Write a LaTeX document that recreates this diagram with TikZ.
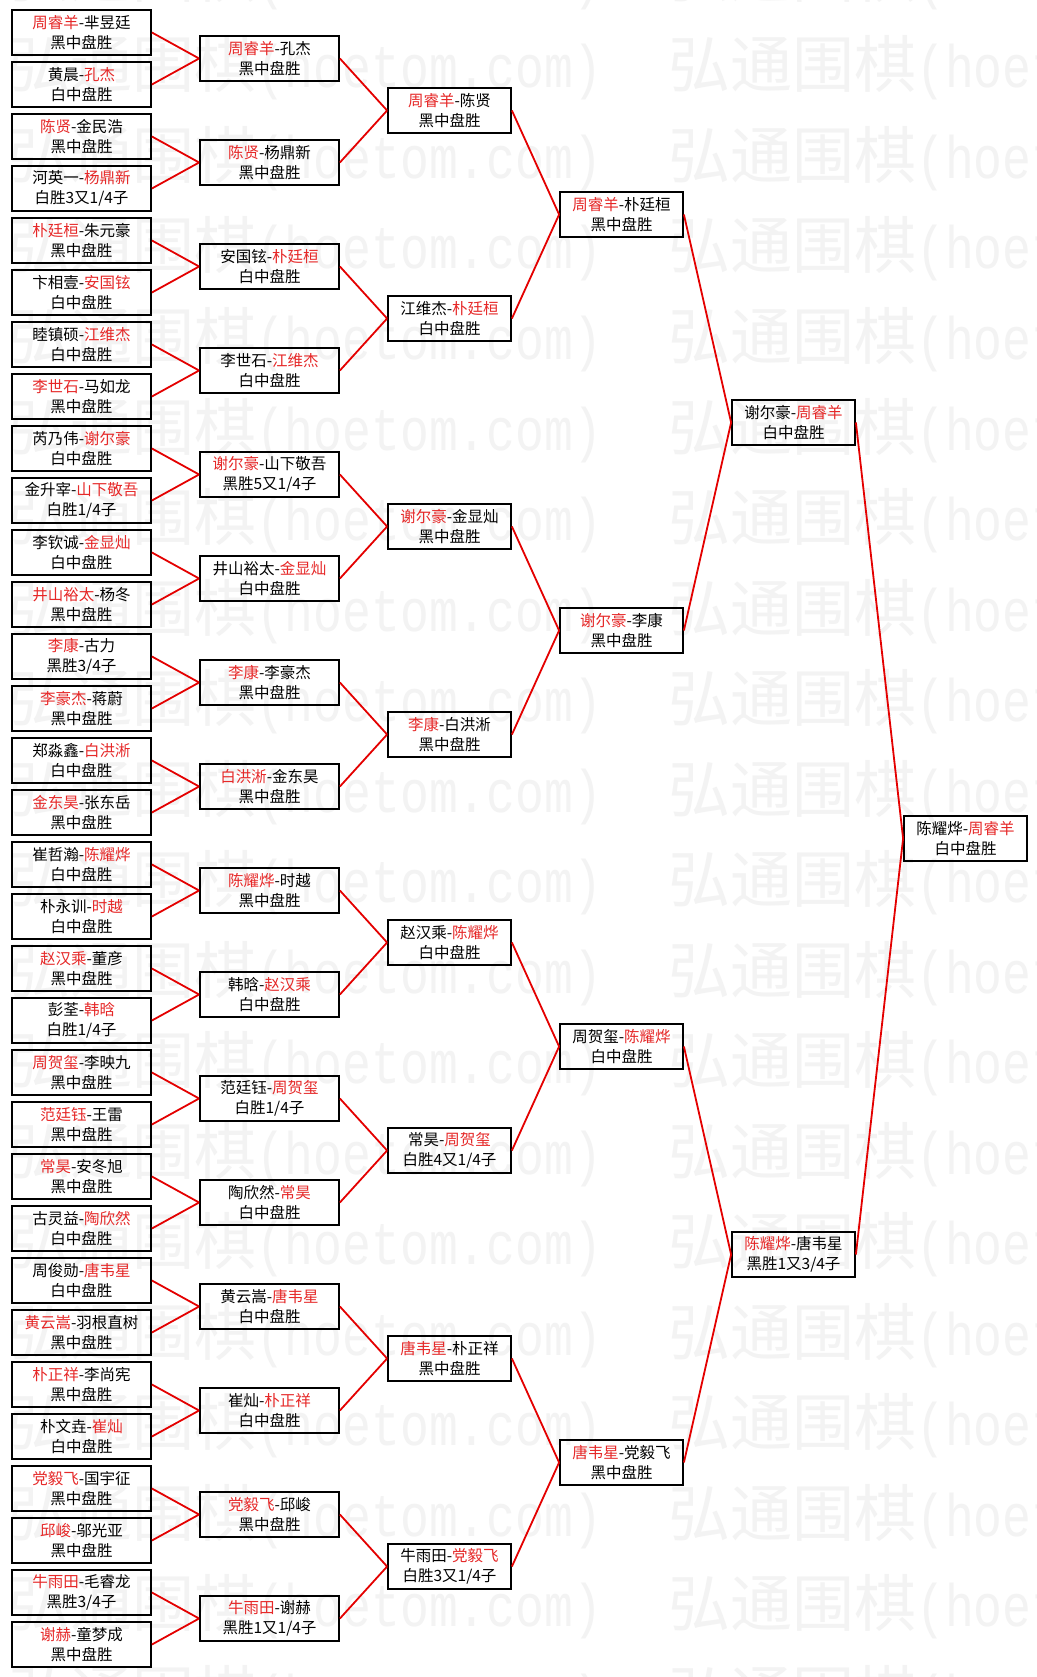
\documentclass[tikz,border=0pt]{standalone}
\usepackage{fontspec}
\setmainfont{Noto Sans CJK SC}
\newfontfamily\markmono[FakeStretch=0.8]{Liberation Mono}
\usepackage{tikz}
\usetikzlibrary{calc,positioning}
\definecolor{winred}{RGB}{230,40,40}
\definecolor{linkred}{RGB}{228,0,0}
\definecolor{markgray}{RGB}{243,243,243}
\newcommand{\win}[1]{\textcolor{winred}{#1}}
\newcommand{\marktext}{弘通围棋{\markmono\fontsize{60}{60}\selectfont(hoetom.com)}}

\begin{document}
\begin{tikzpicture}[x=1pt, y=-1pt,
		box/.style={draw, line width=1.8pt, minimum width=139pt, minimum height=45pt,
			inner sep=0pt, align=center, font=\fontsize{15.5}{20}\selectfont},
		narrowbox/.style={box, minimum width=123pt},
		link/.style={draw=linkred, line width=1.8pt},
		wmark/.style={anchor=base west, inner sep=0pt, text=markgray, font=\fontsize{62}{62}\selectfont},
		node distance=52pt
		]
		\useasboundingbox (0,0) rectangle (1036,1677);
		\fill[white] (0,0) rectangle (1036,1677);
		\clip (0,0) rectangle (1036,1677);
		
		% watermark
		\foreach \k in {-1,...,18}{
			\node[wmark] (wmL\k) at (8,{88+90.5*\k}) {\marktext};
			\node[wmark] (wmR\k) at (668,{88+90.5*\k}) {\marktext};
		}
		
		% first round
		\node[box] (A1) at (81.5,32.5) {\win{周睿羊}-芈昱廷\\黑中盘胜};
		\node[box, below of = A1] (A2) {黄晨-\win{孔杰}\\白中盘胜};
		\node[box, below of = A2] (A3) {\win{陈贤}-金民浩\\黑中盘胜};
		\node[box, below of = A3] (A4) {河英一-\win{杨鼎新}\\白胜3又1/4子};
		\node[box, below of = A4] (A5) {\win{朴廷桓}-朱元豪\\黑中盘胜};
		\node[box, below of = A5] (A6) {卞相壹-\win{安国铉}\\白中盘胜};
		\node[box, below of = A6] (A7) {睦镇硕-\win{江维杰}\\白中盘胜};
		\node[box, below of = A7] (A8) {\win{李世石}-马如龙\\黑中盘胜};
		\node[box, below of = A8] (A9) {芮乃伟-\win{谢尔豪}\\白中盘胜};
		\node[box, below of = A9] (A10) {金升宰-\win{山下敬吾}\\白胜1/4子};
		\node[box, below of = A10] (A11) {李钦诚-\win{金显灿}\\白中盘胜};
		\node[box, below of = A11] (A12) {\win{井山裕太}-杨冬\\黑中盘胜};
		\node[box, below of = A12] (A13) {\win{李康}-古力\\黑胜3/4子};
		\node[box, below of = A13] (A14) {\win{李豪杰}-蒋蔚\\黑中盘胜};
		\node[box, below of = A14] (A15) {郑淼鑫-\win{白洪淅}\\白中盘胜};
		\node[box, below of = A15] (A16) {\win{金东昊}-张东岳\\黑中盘胜};
		\node[box, below of = A16] (A17) {崔哲瀚-\win{陈耀烨}\\白中盘胜};
		\node[box, below of = A17] (A18) {朴永训-\win{时越}\\白中盘胜};
		\node[box, below of = A18] (A19) {\win{赵汉乘}-董彦\\黑中盘胜};
		\node[box, below of = A19] (A20) {彭荃-\win{韩晗}\\白胜1/4子};
		\node[box, below of = A20] (A21) {\win{周贺玺}-李映九\\黑中盘胜};
		\node[box, below of = A21] (A22) {\win{范廷钰}-王雷\\黑中盘胜};
		\node[box, below of = A22] (A23) {\win{常昊}-安冬旭\\黑中盘胜};
		\node[box, below of = A23] (A24) {古灵益-\win{陶欣然}\\白中盘胜};
		\node[box, below of = A24] (A25) {周俊勋-\win{唐韦星}\\白中盘胜};
		\node[box, below of = A25] (A26) {\win{黄云嵩}-羽根直树\\黑中盘胜};
		\node[box, below of = A26] (A27) {\win{朴正祥}-李尚宪\\黑中盘胜};
		\node[box, below of = A27] (A28) {朴文垚-\win{崔灿}\\白中盘胜};
		\node[box, below of = A28] (A29) {\win{党毅飞}-国宇征\\黑中盘胜};
		\node[box, below of = A29] (A30) {\win{邱峻}-邬光亚\\黑中盘胜};
		\node[box, below of = A30] (A31) {\win{牛雨田}-毛睿龙\\黑胜3/4子};
		\node[box, below of = A31] (A32) {\win{谢赫}-童梦成\\黑中盘胜};
		
		% second round
		\node[box] (B1) at ($(A1)!0.5!(A2)+(188,0)$) {\win{周睿羊}-孔杰\\黑中盘胜};
		\node[box] (B2) at ($(A3)!0.5!(A4)+(188,0)$) {\win{陈贤}-杨鼎新\\黑中盘胜};
		\node[box] (B3) at ($(A5)!0.5!(A6)+(188,0)$) {安国铉-\win{朴廷桓}\\白中盘胜};
		\node[box] (B4) at ($(A7)!0.5!(A8)+(188,0)$) {李世石-\win{江维杰}\\白中盘胜};
		\node[box] (B5) at ($(A9)!0.5!(A10)+(188,0)$) {\win{谢尔豪}-山下敬吾\\黑胜5又1/4子};
		\node[box] (B6) at ($(A11)!0.5!(A12)+(188,0)$) {井山裕太-\win{金显灿}\\白中盘胜};
		\node[box] (B7) at ($(A13)!0.5!(A14)+(188,0)$) {\win{李康}-李豪杰\\黑中盘胜};
		\node[box] (B8) at ($(A15)!0.5!(A16)+(188,0)$) {\win{白洪淅}-金东昊\\黑中盘胜};
		\node[box] (B9) at ($(A17)!0.5!(A18)+(188,0)$) {\win{陈耀烨}-时越\\黑中盘胜};
		\node[box] (B10) at ($(A19)!0.5!(A20)+(188,0)$) {韩晗-\win{赵汉乘}\\白中盘胜};
		\node[box] (B11) at ($(A21)!0.5!(A22)+(188,0)$) {范廷钰-\win{周贺玺}\\白胜1/4子};
		\node[box] (B12) at ($(A23)!0.5!(A24)+(188,0)$) {陶欣然-\win{常昊}\\白中盘胜};
		\node[box] (B13) at ($(A25)!0.5!(A26)+(188,0)$) {黄云嵩-\win{唐韦星}\\白中盘胜};
		\node[box] (B14) at ($(A27)!0.5!(A28)+(188,0)$) {崔灿-\win{朴正祥}\\白中盘胜};
		\node[box] (B15) at ($(A29)!0.5!(A30)+(188,0)$) {\win{党毅飞}-邱峻\\黑中盘胜};
		\node[box] (B16) at ($(A31)!0.5!(A32)+(188,0)$) {\win{牛雨田}-谢赫\\黑胜1又1/4子};
		
		% third round
		\node[narrowbox] (C1) at ($(B1)!0.5!(B2)+(180,0)$) {\win{周睿羊}-陈贤\\黑中盘胜};
		\node[narrowbox] (C2) at ($(B3)!0.5!(B4)+(180,0)$) {江维杰-\win{朴廷桓}\\白中盘胜};
		\node[narrowbox] (C3) at ($(B5)!0.5!(B6)+(180,0)$) {\win{谢尔豪}-金显灿\\黑中盘胜};
		\node[narrowbox] (C4) at ($(B7)!0.5!(B8)+(180,0)$) {\win{李康}-白洪淅\\黑中盘胜};
		\node[narrowbox] (C5) at ($(B9)!0.5!(B10)+(180,0)$) {赵汉乘-\win{陈耀烨}\\白中盘胜};
		\node[narrowbox] (C6) at ($(B11)!0.5!(B12)+(180,0)$) {常昊-\win{周贺玺}\\白胜4又1/4子};
		\node[narrowbox] (C7) at ($(B13)!0.5!(B14)+(180,0)$) {\win{唐韦星}-朴正祥\\黑中盘胜};
		\node[narrowbox] (C8) at ($(B15)!0.5!(B16)+(180,0)$) {牛雨田-\win{党毅飞}\\白胜3又1/4子};
		
		% quarter finals
		\node[narrowbox] (D1) at ($(C1)!0.5!(C2)+(172,0)$) {\win{周睿羊}-朴廷桓\\黑中盘胜};
		\node[narrowbox] (D2) at ($(C3)!0.5!(C4)+(172,0)$) {\win{谢尔豪}-李康\\黑中盘胜};
		\node[narrowbox] (D3) at ($(C5)!0.5!(C6)+(172,0)$) {周贺玺-\win{陈耀烨}\\白中盘胜};
		\node[narrowbox] (D4) at ($(C7)!0.5!(C8)+(172,0)$) {\win{唐韦星}-党毅飞\\黑中盘胜};
		
		% semi finals and final
		\node[narrowbox] (E1) at ($(D1)!0.5!(D2)+(172,0)$) {谢尔豪-\win{周睿羊}\\白中盘胜};
		\node[narrowbox] (E2) at ($(D3)!0.5!(D4)+(172,0)$) {\win{陈耀烨}-唐韦星\\黑胜1又3/4子};
		\node[narrowbox] (F1) at ($(E1)!0.5!(E2)+(172,0)$) {陈耀烨-\win{周睿羊}\\白中盘胜};
		
		% links
		\draw[link] (A1.east) -- (B1.west) (A2.east) -- (B1.west);
		\draw[link] (A3.east) -- (B2.west) (A4.east) -- (B2.west);
		\draw[link] (A5.east) -- (B3.west) (A6.east) -- (B3.west);
		\draw[link] (A7.east) -- (B4.west) (A8.east) -- (B4.west);
		\draw[link] (A9.east) -- (B5.west) (A10.east) -- (B5.west);
		\draw[link] (A11.east) -- (B6.west) (A12.east) -- (B6.west);
		\draw[link] (A13.east) -- (B7.west) (A14.east) -- (B7.west);
		\draw[link] (A15.east) -- (B8.west) (A16.east) -- (B8.west);
		\draw[link] (A17.east) -- (B9.west) (A18.east) -- (B9.west);
		\draw[link] (A19.east) -- (B10.west) (A20.east) -- (B10.west);
		\draw[link] (A21.east) -- (B11.west) (A22.east) -- (B11.west);
		\draw[link] (A23.east) -- (B12.west) (A24.east) -- (B12.west);
		\draw[link] (A25.east) -- (B13.west) (A26.east) -- (B13.west);
		\draw[link] (A27.east) -- (B14.west) (A28.east) -- (B14.west);
		\draw[link] (A29.east) -- (B15.west) (A30.east) -- (B15.west);
		\draw[link] (A31.east) -- (B16.west) (A32.east) -- (B16.west);
		\draw[link] (B1.east) -- (C1.west) (B2.east) -- (C1.west);
		\draw[link] (B3.east) -- (C2.west) (B4.east) -- (C2.west);
		\draw[link] (B5.east) -- (C3.west) (B6.east) -- (C3.west);
		\draw[link] (B7.east) -- (C4.west) (B8.east) -- (C4.west);
		\draw[link] (B9.east) -- (C5.west) (B10.east) -- (C5.west);
		\draw[link] (B11.east) -- (C6.west) (B12.east) -- (C6.west);
		\draw[link] (B13.east) -- (C7.west) (B14.east) -- (C7.west);
		\draw[link] (B15.east) -- (C8.west) (B16.east) -- (C8.west);
		\draw[link] (C1.east) -- (D1.west) (C2.east) -- (D1.west);
		\draw[link] (C3.east) -- (D2.west) (C4.east) -- (D2.west);
		\draw[link] (C5.east) -- (D3.west) (C6.east) -- (D3.west);
		\draw[link] (C7.east) -- (D4.west) (C8.east) -- (D4.west);
		\draw[link] (D1.east) -- (E1.west) (D2.east) -- (E1.west);
		\draw[link] (D3.east) -- (E2.west) (D4.east) -- (E2.west);
		\draw[link] (E1.east) -- (F1.west) (E2.east) -- (F1.west);
	\end{tikzpicture}
\end{document}
